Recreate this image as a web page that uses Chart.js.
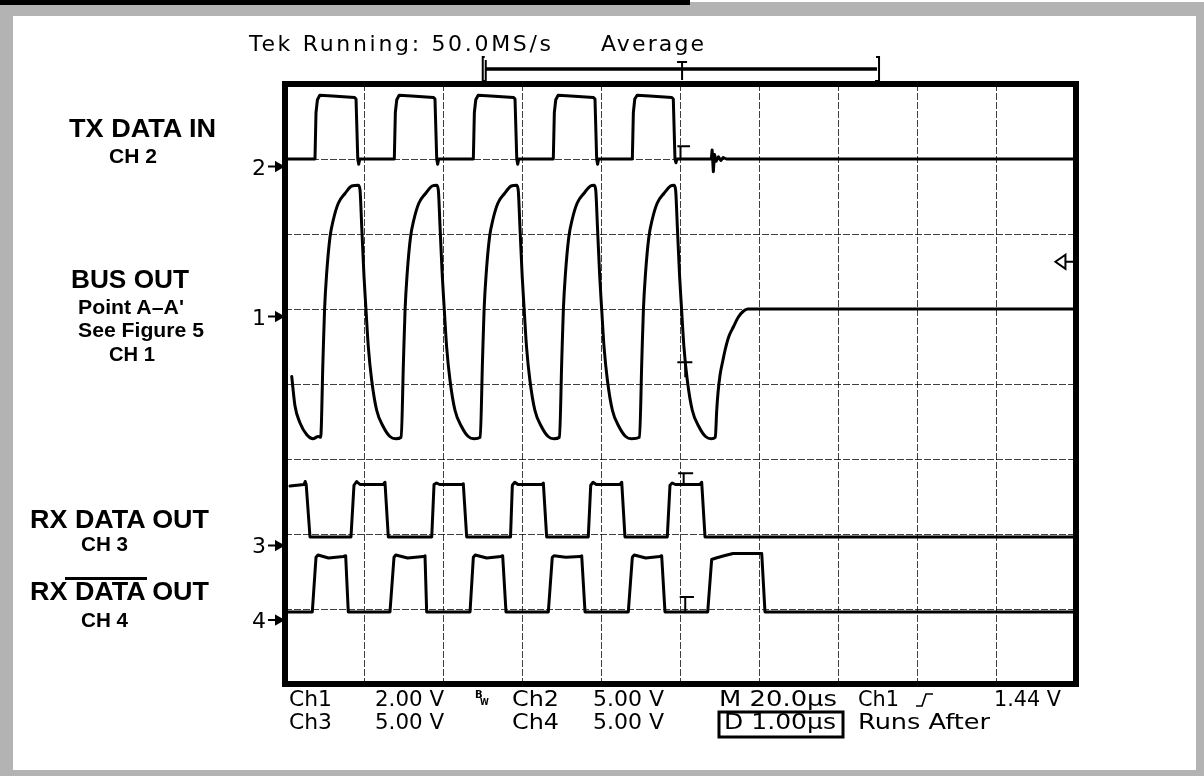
<!DOCTYPE html>
<html lang="en">
<head>
<meta charset="UTF-8">
<title>TX DATA IN / BUS OUT / RX DATA OUT</title>
<style>
  body { margin: 0; width: 1204px; height: 776px; background: #b3b3b3; position: relative; overflow: hidden; }
  #paper { position: absolute; left: 13px; top: 16px; width: 1183px; height: 754px; background: #fff; }
  #strip { position: absolute; left: 690px; top: 0; width: 514px; height: 2px; background: #fff; }
  #bar { position: absolute; left: 0; top: 0; width: 690px; height: 5px; background: #000; }
  #scope { position: absolute; left: 0; top: 0; }
  #words { position: absolute; left: 0; top: 0; pointer-events: none; }
  .lab { font-family: "Liberation Sans", Arial, sans-serif; font-weight: bold; fill: #000; }
  .big { font-size: 26px; }
  .small { font-size: 21px; }
  .scr { font-family: "DejaVu Sans", sans-serif; font-size: 22px; fill: #000; }
  .chn { font-family: "DejaVu Sans", sans-serif; font-size: 22px; fill: #000; }
</style>
</head>
<body>
<div id="paper"></div>
<div id="strip"></div>
<div id="bar"></div>
<canvas id="scope" width="1204" height="776"></canvas>

<svg id="words" width="1204" height="776">
  <!-- signal names on the left -->
  <text class="lab big" x="69" y="137" textLength="147" lengthAdjust="spacingAndGlyphs">TX DATA IN</text>
  <text class="lab small" x="109" y="163" textLength="48" lengthAdjust="spacingAndGlyphs">CH 2</text>
  <text class="lab big" x="71" y="288" textLength="118" lengthAdjust="spacingAndGlyphs">BUS OUT</text>
  <text class="lab small" x="78" y="314" textLength="106" lengthAdjust="spacingAndGlyphs">Point A–A'</text>
  <text class="lab small" x="78" y="337" textLength="126" lengthAdjust="spacingAndGlyphs">See Figure 5</text>
  <text class="lab small" x="109" y="361" textLength="46" lengthAdjust="spacingAndGlyphs">CH 1</text>
  <text class="lab big" x="30" y="528" textLength="179" lengthAdjust="spacingAndGlyphs">RX DATA OUT</text>
  <text class="lab small" x="81" y="551" textLength="47" lengthAdjust="spacingAndGlyphs">CH 3</text>
  <text class="lab big" x="30" y="600" textLength="179" lengthAdjust="spacingAndGlyphs">RX DATA OUT</text>
  <line x1="65" y1="578.5" x2="147" y2="578.5" stroke="#000" stroke-width="3"/>
  <text class="lab small" x="81" y="627" textLength="47" lengthAdjust="spacingAndGlyphs">CH 4</text>

  <!-- channel ground indicators -->
  <text class="chn" x="266" y="175" text-anchor="end">2</text>
  <text class="chn" x="266" y="325" text-anchor="end">1</text>
  <text class="chn" x="266" y="553" text-anchor="end">3</text>
  <text class="chn" x="266" y="628" text-anchor="end">4</text>
  <g stroke="#000" stroke-width="2" fill="#000">
    <line x1="268" y1="166.5" x2="277" y2="166.5"/><polygon points="276,162.5 283,166.5 276,170.5"/>
    <line x1="268" y1="316.5" x2="277" y2="316.5"/><polygon points="276,312.5 283,316.5 276,320.5"/>
    <line x1="268" y1="545.5" x2="277" y2="545.5"/><polygon points="276,541.5 283,545.5 276,549.5"/>
    <line x1="268" y1="620" x2="277" y2="620"/><polygon points="276,616 283,620 276,624"/>
  </g>

  <!-- scope status line -->
  <text class="scr" x="249" y="51" textLength="302" lengthAdjust="spacing">Tek Running: 50.0MS/s</text>
  <text class="scr" x="601" y="51" textLength="103" lengthAdjust="spacing">Average</text>

  <!-- scope readouts under the screen -->
  <text class="scr" x="289" y="706" textLength="43" lengthAdjust="spacingAndGlyphs">Ch1</text>
  <text class="scr" x="375" y="706" textLength="69" lengthAdjust="spacingAndGlyphs">2.00 V</text>
  <text x="475" y="698" font-family="DejaVu Sans" font-weight="bold" font-size="10">B</text>
  <text x="480" y="705" font-family="DejaVu Sans" font-weight="bold" font-size="8">W</text>
  <text class="scr" x="512" y="706" textLength="47" lengthAdjust="spacingAndGlyphs">Ch2</text>
  <text class="scr" x="593" y="706" textLength="71" lengthAdjust="spacingAndGlyphs">5.00 V</text>
  <text class="scr" x="719" y="706" textLength="118" lengthAdjust="spacingAndGlyphs">M 20.0µs</text>
  <text class="scr" x="858" y="706" textLength="41" lengthAdjust="spacingAndGlyphs">Ch1</text>
  <path d="M916 706 H922 L926 694 H933" stroke="#000" stroke-width="1.6" fill="none"/>
  <text class="scr" x="994" y="706" textLength="67" lengthAdjust="spacingAndGlyphs">1.44 V</text>

  <text class="scr" x="289" y="729" textLength="43" lengthAdjust="spacingAndGlyphs">Ch3</text>
  <text class="scr" x="375" y="729" textLength="69" lengthAdjust="spacingAndGlyphs">5.00 V</text>
  <text class="scr" x="512" y="729" textLength="47" lengthAdjust="spacingAndGlyphs">Ch4</text>
  <text class="scr" x="593" y="729" textLength="71" lengthAdjust="spacingAndGlyphs">5.00 V</text>
  <rect x="719" y="712" width="124" height="25" fill="none" stroke="#000" stroke-width="3"/>
  <text class="scr" x="724" y="729" textLength="112" lengthAdjust="spacingAndGlyphs">D 1.00µs</text>
  <text class="scr" x="858" y="729" textLength="132" lengthAdjust="spacingAndGlyphs">Runs After</text>
</svg>

<script src="https://cdn.jsdelivr.net/npm/chart.js@4.4.0/dist/chart.umd.min.js"></script>
<script>
// screen is 10 x 8 divisions, values below are in divisions (bottom = 0)

// CH2 - TX DATA IN
var ch2T = [0.02,
  0.379, 0.392, 0.41, 0.44, 0.6, 0.88, 0.898, 0.92, 0.932, 0.945,
  1.382, 1.395, 1.413, 1.443, 1.6, 1.878, 1.896, 1.918, 1.93, 1.943,
  2.381, 2.394, 2.412, 2.442, 2.6, 2.89, 2.908, 2.93, 2.942, 2.955,
  3.392, 3.405, 3.423, 3.453, 3.61, 3.9, 3.919, 3.94, 3.952, 3.965,
  4.391, 4.404, 4.422, 4.452, 4.61, 4.89, 4.909, 4.93, 4.942, 4.955,
  5.39, 5.40, 5.415, 5.43, 5.45, 5.48, 5.51, 5.54, 5.58, 10];
var ch2V = [7.0,
  7.0, 7.62, 7.79, 7.85, 7.84, 7.82, 7.80, 7.0, 6.93, 7.0,
  7.0, 7.62, 7.79, 7.85, 7.84, 7.82, 7.80, 7.0, 6.93, 7.0,
  7.0, 7.62, 7.79, 7.85, 7.84, 7.82, 7.80, 7.0, 6.93, 7.0,
  7.0, 7.62, 7.79, 7.85, 7.84, 7.82, 7.80, 7.0, 6.93, 7.0,
  7.0, 7.62, 7.80, 7.85, 7.84, 7.82, 7.80, 7.0, 6.95, 7.0,
  7.0, 7.12, 6.83, 7.06, 6.97, 7.03, 6.98, 7.02, 7.0, 7.0];

// CH1 - BUS OUT
var ch1T = [0.085, 0.126, 0.19, 0.278, 0.354, 0.42,
  0.451, 0.48, 0.50, 0.527, 0.569, 0.611, 0.674, 0.759, 0.843,
  0.927, 0.948, 0.97, 0.999, 1.024, 1.053, 1.096, 1.159, 1.243, 1.327, 1.40,
  1.469, 1.498, 1.518, 1.545, 1.587, 1.629, 1.692, 1.777, 1.861,
  1.917, 1.938, 1.96, 1.989, 2.014, 2.043, 2.086, 2.149, 2.233, 2.317, 2.39,
  2.468, 2.497, 2.517, 2.544, 2.586, 2.628, 2.691, 2.776, 2.86,
  2.927, 2.948, 2.97, 2.999, 3.024, 3.053, 3.096, 3.159, 3.243, 3.327, 3.40,
  3.47, 3.499, 3.519, 3.546, 3.588, 3.63, 3.693, 3.778, 3.862,
  3.907, 3.928, 3.95, 3.979, 4.004, 4.033, 4.076, 4.139, 4.223, 4.307, 4.38,
  4.482, 4.511, 4.531, 4.558, 4.60, 4.642, 4.705, 4.79, 4.874,
  4.917, 4.938, 4.96, 4.989, 5.014, 5.043, 5.086, 5.149, 5.233, 5.317, 5.39,
  5.44, 5.458, 5.474, 5.50, 5.537, 5.563, 5.61, 5.668, 5.73, 5.794, 5.85, 10];
var ch1V = [4.10, 3.71, 3.48, 3.32, 3.27, 3.30,
  3.29, 4.32, 4.99, 5.48, 5.96, 6.19, 6.41, 6.54, 6.64,
  6.65, 6.59, 6.10, 5.43, 4.99, 4.50, 4.05, 3.65, 3.43, 3.30, 3.27,
  3.29, 4.32, 4.99, 5.48, 5.96, 6.19, 6.41, 6.54, 6.64,
  6.65, 6.59, 6.10, 5.43, 4.99, 4.50, 4.05, 3.65, 3.43, 3.30, 3.27,
  3.29, 4.32, 4.99, 5.48, 5.96, 6.19, 6.41, 6.54, 6.64,
  6.65, 6.59, 6.10, 5.43, 4.99, 4.50, 4.05, 3.65, 3.43, 3.30, 3.27,
  3.29, 4.32, 4.99, 5.48, 5.96, 6.19, 6.41, 6.54, 6.64,
  6.65, 6.59, 6.10, 5.43, 4.99, 4.50, 4.05, 3.65, 3.43, 3.30, 3.27,
  3.29, 4.32, 4.99, 5.48, 5.96, 6.19, 6.41, 6.54, 6.64,
  6.65, 6.59, 6.10, 5.43, 4.99, 4.50, 4.05, 3.65, 3.43, 3.30, 3.27,
  3.29, 3.65, 3.88, 4.12, 4.32, 4.45, 4.63, 4.76, 4.89, 4.97, 5.0, 5.0];

// CH3 - RX DATA OUT
var ch3T = [0.063, 0.24, 0.255, 0.268, 0.316,
  0.834, 0.872, 0.906, 0.948, 1.243, 1.264, 1.306,
  1.855, 1.884, 1.915, 1.955, 2.235, 2.254, 2.297,
  2.851, 2.874, 2.905, 2.945, 3.245, 3.266, 3.308,
  3.834, 3.865, 3.895, 3.935, 4.235, 4.257, 4.298,
  4.833, 4.867, 4.895, 4.935, 5.245, 5.268, 5.31,
  10];
var ch3V = [2.64, 2.66, 2.70, 2.66, 1.96,
  1.96, 2.65, 2.70, 2.66, 2.66, 2.69, 1.96,
  1.96, 2.66, 2.68, 2.66, 2.66, 2.67, 1.96,
  1.96, 2.65, 2.69, 2.66, 2.66, 2.68, 1.96,
  1.96, 2.65, 2.69, 2.66, 2.66, 2.69, 1.96,
  1.96, 2.65, 2.68, 2.66, 2.66, 2.69, 1.96,
  1.96];

// CH4 - RX DATA OUT (inverted)
var ch4T = [0.025,
  0.345, 0.392, 0.417, 0.55, 0.74, 0.767, 0.80,
  1.327, 1.378, 1.40, 1.55, 1.75, 1.77, 1.791,
  2.339, 2.381, 2.405, 2.55, 2.73, 2.752, 2.794,
  3.329, 3.379, 3.40, 3.55, 3.73, 3.751, 3.793,
  4.34, 4.391, 4.415, 4.56, 4.74, 4.762, 4.804,
  5.344, 5.394, 5.45, 5.55, 5.664, 6.027, 6.068,
  10];
var ch4V = [0.96,
  0.96, 1.69, 1.72, 1.68, 1.70, 1.71, 0.96,
  0.96, 1.69, 1.72, 1.68, 1.70, 1.71, 0.96,
  0.96, 1.69, 1.72, 1.68, 1.70, 1.71, 0.96,
  0.96, 1.69, 1.71, 1.69, 1.70, 1.71, 0.96,
  0.96, 1.69, 1.72, 1.68, 1.70, 1.71, 0.96,
  0.96, 1.66, 1.68, 1.71, 1.74, 1.74, 0.96,
  0.96];

// trigger "T" marks on each trace: bar from x0 to x1 at y, stem at xs down to y1
var trigMarks = [
  { x0: 4.96, x1: 5.12, y: 7.17, xs: 5.0, y1: 7.0 },
  { x0: 4.96, x1: 5.15, y: 4.29, xs: 5.06, y1: 4.09 },
  { x0: 4.97, x1: 5.16, y: 2.81, xs: 5.04, y1: 2.65 },
  { x0: 4.99, x1: 5.17, y: 1.16, xs: 5.06, y1: 0.97 }
];
var trigLevel = { x: 9.74, y: 5.63 };   // ch1 trigger level arrow
var recordSpan = [2.50, 7.51];          // record window bracket above the screen
var trigPos = 5.02;

function pts(t, v) {
  return t.map(function (x, i) { return { x: x, y: v[i] }; });
}

var scopeDecor = {
  id: 'scopeDecor',
  afterDraw: function (chart) {
    var ctx = chart.ctx, xs = chart.scales.x, ys = chart.scales.y, a = chart.chartArea;
    ctx.save();
    ctx.strokeStyle = '#000';
    ctx.lineCap = 'butt';

    // T marks
    ctx.lineWidth = 2;
    trigMarks.forEach(function (m) {
      ctx.beginPath();
      ctx.moveTo(xs.getPixelForValue(m.x0), ys.getPixelForValue(m.y));
      ctx.lineTo(xs.getPixelForValue(m.x1), ys.getPixelForValue(m.y));
      ctx.moveTo(xs.getPixelForValue(m.xs), ys.getPixelForValue(m.y));
      ctx.lineTo(xs.getPixelForValue(m.xs), ys.getPixelForValue(m.y1));
      ctx.stroke();
    });

    // trigger level arrow (open head pointing left)
    var tx = xs.getPixelForValue(trigLevel.x), ty = ys.getPixelForValue(trigLevel.y);
    ctx.beginPath();
    ctx.moveTo(tx + 10, ty - 7);
    ctx.lineTo(tx, ty);
    ctx.lineTo(tx + 10, ty + 7);
    ctx.closePath();
    ctx.moveTo(tx + 10, ty);
    ctx.lineTo(tx + 18, ty);
    ctx.stroke();

    // screen frame
    ctx.lineWidth = 6;
    ctx.strokeRect(a.left, a.top, a.right - a.left, a.bottom - a.top);

    // record bracket + trigger position
    var bx0 = xs.getPixelForValue(recordSpan[0]), bx1 = xs.getPixelForValue(recordSpan[1]);
    var by = 69;
    ctx.lineWidth = 3.5;
    ctx.beginPath();
    ctx.moveTo(bx0 + 3, by);
    ctx.lineTo(bx1 - 2, by);
    ctx.stroke();
    ctx.lineWidth = 2;
    ctx.beginPath();
    ctx.moveTo(bx0 + 2, 57); ctx.lineTo(bx0, 57); ctx.lineTo(bx0, 81); ctx.lineTo(bx0 + 3, 81);
    ctx.moveTo(bx0 + 3, 60); ctx.lineTo(bx0 + 3, 81);
    ctx.moveTo(bx1 - 3, 57); ctx.lineTo(bx1, 57); ctx.lineTo(bx1, 81); ctx.lineTo(bx1 - 4, 81);
    var tp = xs.getPixelForValue(trigPos);
    ctx.moveTo(tp - 5, 62); ctx.lineTo(tp + 5, 62);
    ctx.moveTo(tp, 62); ctx.lineTo(tp, 80);
    ctx.stroke();
    ctx.restore();
  }
};

function trace(data, smooth) {
  return {
    data: data,
    borderColor: '#000',
    borderWidth: 3,
    pointRadius: 0,
    fill: false,
    tension: 0,
    cubicInterpolationMode: smooth ? 'monotone' : 'default',
    borderJoinStyle: 'round',
    borderCapStyle: 'round'
  };
}

var gridOpts = { color: 'rgba(0,0,0,0.75)', lineWidth: 1, drawTicks: false, borderDash: [7, 2] };

new Chart(document.getElementById('scope'), {
  type: 'line',
  data: {
    datasets: [
      trace(pts(ch2T, ch2V), false),
      trace(pts(ch1T, ch1V), true),
      trace(pts(ch3T, ch3V), false),
      trace(pts(ch4T, ch4V), false)
    ]
  },
  options: {
    responsive: false,
    animation: false,
    devicePixelRatio: 1,
    layout: { padding: { left: 285, right: 128, top: 84, bottom: 92 } },
    plugins: { legend: { display: false }, tooltip: { enabled: false } },
    scales: {
      x: {
        type: 'linear', min: 0, max: 10,
        ticks: { display: false, stepSize: 1 },
        grid: gridOpts,
        border: { display: false, dash: [7, 2] }
      },
      y: {
        type: 'linear', min: 0, max: 8,
        ticks: { display: false, stepSize: 1 },
        grid: gridOpts,
        border: { display: false, dash: [7, 2] }
      }
    }
  },
  plugins: [scopeDecor]
});
</script>
</body>
</html>
